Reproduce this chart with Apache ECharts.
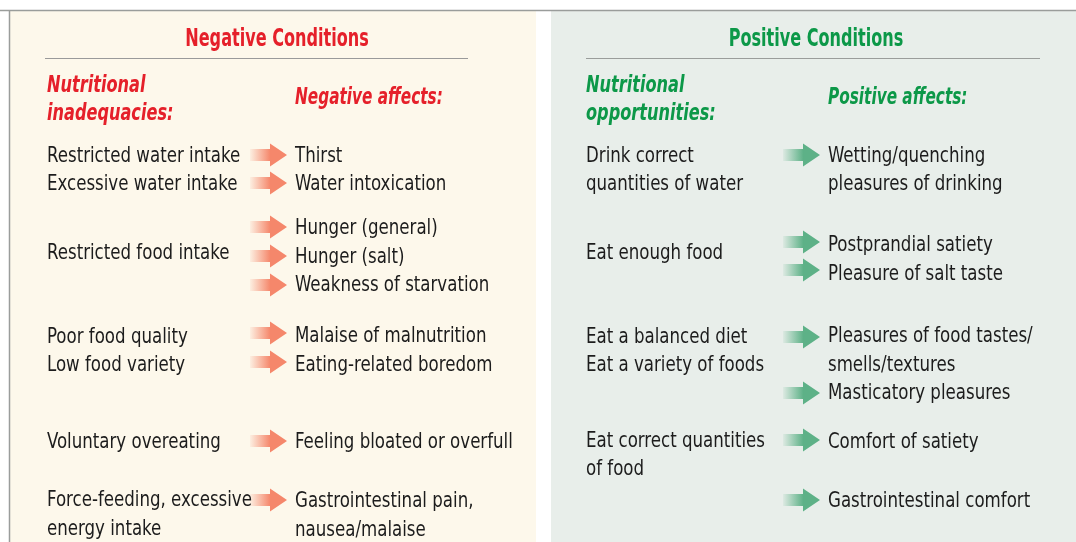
<!DOCTYPE html>
<html>
<head>
<meta charset="utf-8">
<script src="https://cdn.jsdelivr.net/npm/echarts@6/dist/echarts.min.js"></script>
<style>html,body{margin:0;padding:0;background:#fff;}#c{width:1076px;height:542px;}</style>
</head>
<body>
<div id="c"></div>
<script>
// ---- Content (text) ----
const panelTitles = ["Negative Conditions", "Positive Conditions"];
const negHeadLeft = ["Nutritional", "inadequacies:"];
const negHeadRight = ["Negative affects:"];
const posHeadLeft = ["Nutritional", "opportunities:"];
const posHeadRight = ["Positive affects:"];

const negCauses = ["Restricted water intake", "Excessive water intake", "Restricted food intake",
  "Poor food quality", "Low food variety", "Voluntary overeating", "Force-feeding, excessive", "energy intake"];
const negCauseRows = [155, 183, 252, 336, 364, 441, 499, 528];

const negAffects = ["Thirst", "Water intoxication", "Hunger (general)", "Hunger (salt)", "Weakness of starvation",
  "Malaise of malnutrition", "Eating-related boredom", "Feeling bloated or overfull", "Gastrointestinal pain,", "nausea/malaise"];
const negAffectRows = [155, 183, 227, 256, 284, 335, 364, 441, 500, 529];
const negArrowRows = [155, 183, 227, 256, 285, 333, 362, 441, 500];

const posCauses = ["Drink correct", "quantities of water", "Eat enough food", "Eat a balanced diet",
  "Eat a variety of foods", "Eat correct quantities", "of food"];
const posCauseRows = [155, 183, 252, 336, 364, 440, 468];

const posAffects = ["Wetting/quenching", "pleasures of drinking", "Postprandial satiety", "Pleasure of salt taste",
  "Pleasures of food tastes/", "smells/textures", "Masticatory pleasures", "Comfort of satiety", "Gastrointestinal comfort"];
const posAffectRows = [155, 183, 244, 273, 335, 364, 392, 441, 500];
const posArrowRows = [155, 242, 270, 337, 393, 440, 500];

// ---- Layout / style ----
const W = 1076, H = 542;
const RED = '#e5202a', GREEN = '#0c9848', INK = '#1c1c1c';
const FONT = "'Liberation Sans Narrow', 'DejaVu Sans Condensed', 'Roboto Condensed', sans-serif";
const COL = { negCause: 47, negAffect: 295, negArrow: 250, posCause: 586, posAffect: 828, posArrow: 783 };
const BODY_FONT = "21.5px " + FONT, BODY_SX = 0.86;
const HEAD_FONT = "italic bold 23px " + FONT, HEAD_SX = 0.78, HEAD_SX_R = 0.74;
const TITLE_FONT = "bold 25px " + FONT, TITLE_SX = 0.715;

function textSeries(texts, rows, x) {
  return {
    type: 'custom', coordinateSystem: 'cartesian2d', silent: true,
    data: rows.map(r => [x, r]),
    renderItem: function (params, api) {
      const p = api.coord([api.value(0), api.value(1)]);
      return {
        type: 'text', x: p[0], y: p[1] + 1.5, scaleX: BODY_SX,
        style: {
          text: texts[params.dataIndex], fill: INK,
          font: BODY_FONT, textAlign: 'left', textVerticalAlign: 'middle'
        }
      };
    }
  };
}

function arrowSeries(rows, x, color, fade) {
  return {
    type: 'custom', coordinateSystem: 'cartesian2d', silent: true,
    data: rows.map(r => [x, r]),
    renderItem: function (params, api) {
      const p = api.coord([api.value(0), api.value(1)]);
      const x0 = p[0], y = p[1];
      const L = 37, hb = 20, sh = 6, hh = 11.5;
      return {
        type: 'polygon',
        shape: { points: [[x0, y - sh], [x0 + hb, y - sh], [x0 + hb, y - hh], [x0 + L, y], [x0 + hb, y + hh], [x0 + hb, y + sh], [x0, y + sh]] },
        style: {
          fill: new echarts.graphic.LinearGradient(0, 0, 1, 0, [
            { offset: 0, color: fade }, { offset: 0.55, color: color }, { offset: 1, color: color }
          ])
        }
      };
    }
  };
}

function label(x, y, text, fill, font, sx, align) {
  return { type: 'text', x: x, y: y, scaleX: sx, style: { text: text, fill: fill, font: font, textAlign: align || 'left', textVerticalAlign: 'middle' } };
}

const chart = echarts.init(document.getElementById('c'), null, { renderer: 'canvas' });
chart.setOption({
  animation: false,
  backgroundColor: '#ffffff',
  grid: { left: 0, right: 0, top: 0, bottom: 0 },
  xAxis: { type: 'value', min: 0, max: W, show: false },
  yAxis: { type: 'value', min: 0, max: H, inverse: true, show: false },
  graphic: [
    { type: 'rect', z: -10, shape: { x: 9, y: 10, width: 527, height: H - 10 }, style: { fill: '#fdf8eb' } },
    { type: 'rect', z: -10, shape: { x: 551, y: 10, width: W - 551, height: H - 10 }, style: { fill: '#e8eeea' } },
    { type: 'line', z: -5, shape: { x1: 0, y1: 10.5, x2: W, y2: 10.5 }, style: { stroke: '#9a9d9b', lineWidth: 1.5 } },
    { type: 'line', z: -5, shape: { x1: 9.5, y1: 10, x2: 9.5, y2: H }, style: { stroke: '#9a9d9b', lineWidth: 1.5 } },
    { type: 'line', z: -5, shape: { x1: 45, y1: 58.5, x2: 468, y2: 58.5 }, style: { stroke: '#9a9a9a', lineWidth: 1 } },
    { type: 'line', z: -5, shape: { x1: 586, y1: 58.5, x2: 1040, y2: 58.5 }, style: { stroke: '#9a9d9b', lineWidth: 1 } },
    label(277, 39, panelTitles[0], RED, TITLE_FONT, TITLE_SX, 'center'),
    label(816, 39, panelTitles[1], GREEN, TITLE_FONT, TITLE_SX, 'center'),
    label(47, 86, negHeadLeft[0], RED, HEAD_FONT, HEAD_SX),
    label(47, 114, negHeadLeft[1], RED, HEAD_FONT, HEAD_SX),
    label(295, 98, negHeadRight[0], RED, HEAD_FONT, HEAD_SX_R),
    label(586, 86, posHeadLeft[0], GREEN, HEAD_FONT, HEAD_SX),
    label(586, 114, posHeadLeft[1], GREEN, HEAD_FONT, HEAD_SX),
    label(828, 98, posHeadRight[0], GREEN, HEAD_FONT, HEAD_SX_R)
  ],
  series: [
    arrowSeries(negArrowRows, COL.negArrow, '#f5876b', 'rgba(245,135,107,0.08)'),
    arrowSeries(posArrowRows, COL.posArrow, '#5db187', 'rgba(93,177,135,0.08)'),
    textSeries(negCauses, negCauseRows, COL.negCause),
    textSeries(negAffects, negAffectRows, COL.negAffect),
    textSeries(posCauses, posCauseRows, COL.posCause),
    textSeries(posAffects, posAffectRows, COL.posAffect)
  ]
});
</script>
</body>
</html>
